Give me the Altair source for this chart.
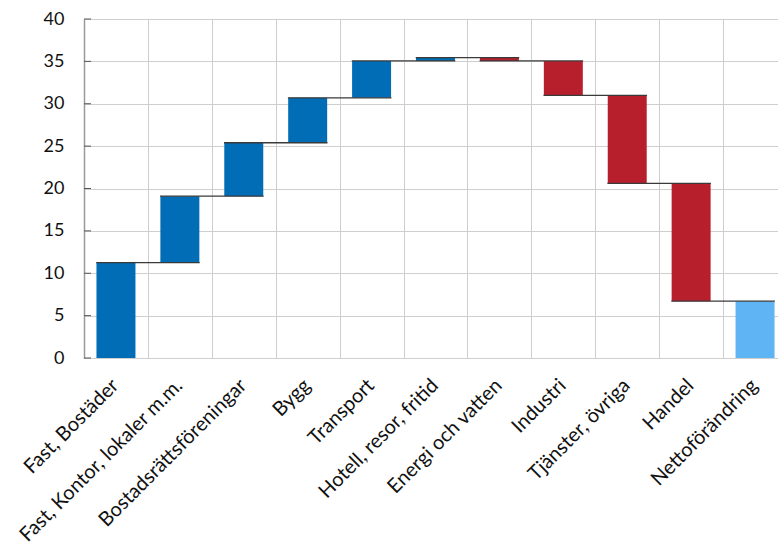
import altair as alt
import pandas as pd

categories = ["Fast, Bostäder", "Fast, Kontor, lokaler m.m.", "Bostadsrättsföreningar",
              "Bygg", "Transport", "Hotell, resor, fritid", "Energi och vatten",
              "Industri", "Tjänster, övriga", "Handel", "Nettoförändring"]
changes = [11.25, 7.85, 6.3, 5.3, 4.35, 0.4, -0.4, -4.05, -10.4, -13.9]
net_total = 6.7
y_ticks = [0, 5, 10, 15, 20, 25, 30, 35, 40]

rows = []
level = 0.0
for cat, d in zip(categories[:-1], changes):
    start, end = level, level + d
    rows.append({"cat": cat, "start": start, "end": end,
                 "kind": "up" if d >= 0 else "down"})
    level = end
rows.append({"cat": categories[-1], "start": 0.0, "end": net_total, "kind": "total"})
bars = pd.DataFrame(rows)

conn = pd.DataFrame({
    "cat": categories[:-1],
    "next": categories[1:],
    "level": [r["end"] for r in rows[:-1]],
})
ticks_df = pd.DataFrame({"v": y_ticks})

FONT = "Lato"
xscale = alt.Scale(domain=categories, paddingInner=0, paddingOuter=0, range=[0, 703])
yscale = alt.Scale(domain=[0, 40], nice=False)

bar_layer = alt.Chart(bars).mark_bar(width=alt.RelativeBandSize(0.61)).encode(
    x=alt.X("cat:N", scale=xscale, sort=categories, title=None,
            axis=alt.Axis(labelAngle=-45, labelFont=FONT, labelFontSize=20,
                          labelColor="#111111", labelPadding=17, labelOffset=-8,
                          ticks=False, domain=False, grid=True, tickBand="extent",
                          gridColor="#cfcfcf", gridWidth=1, labelOverlap=False,
                          labelLimit=400)),
    y=alt.Y("start:Q", scale=yscale, title=None,
            axis=alt.Axis(values=y_ticks, labelFont=FONT, labelFontSize=18,
                          labelColor="#111111", labelPadding=20, ticks=False,
                          domain=True, domainColor="#9a9a9a", domainWidth=1.5,
                          grid=True, gridColor="#cfcfcf", gridWidth=1)),
    y2="end:Q",
    color=alt.Color("kind:N", scale=alt.Scale(domain=["up", "down", "total"],
                                              range=["#006DB6", "#B81F2C", "#5FB4F4"]),
                    legend=None),
)

conn_layer = alt.Chart(conn).mark_rule(color="#3a3a3a", strokeWidth=1.3).encode(
    x=alt.X("cat:N", scale=xscale, sort=categories, bandPosition=0.19),
    x2=alt.X2("next:N", bandPosition=0.81),
    y=alt.Y("level:Q", scale=yscale),
)

tick_layer = alt.Chart(ticks_df).mark_rule(color="#555555", strokeWidth=1).encode(
    x=alt.value(0), x2=alt.value(7),
    y=alt.Y("v:Q", scale=yscale),
)

chart = alt.layer(bar_layer, conn_layer, tick_layer).properties(
    width=694, height=339,
    autosize=alt.AutoSizeParams(type="none"),
    padding={"left": 84, "top": 19, "right": 0, "bottom": 192},
).configure_view(stroke=None).configure(background="white")

chart.save("out.html", embed_options={"renderer": "svg", "actions": False})
